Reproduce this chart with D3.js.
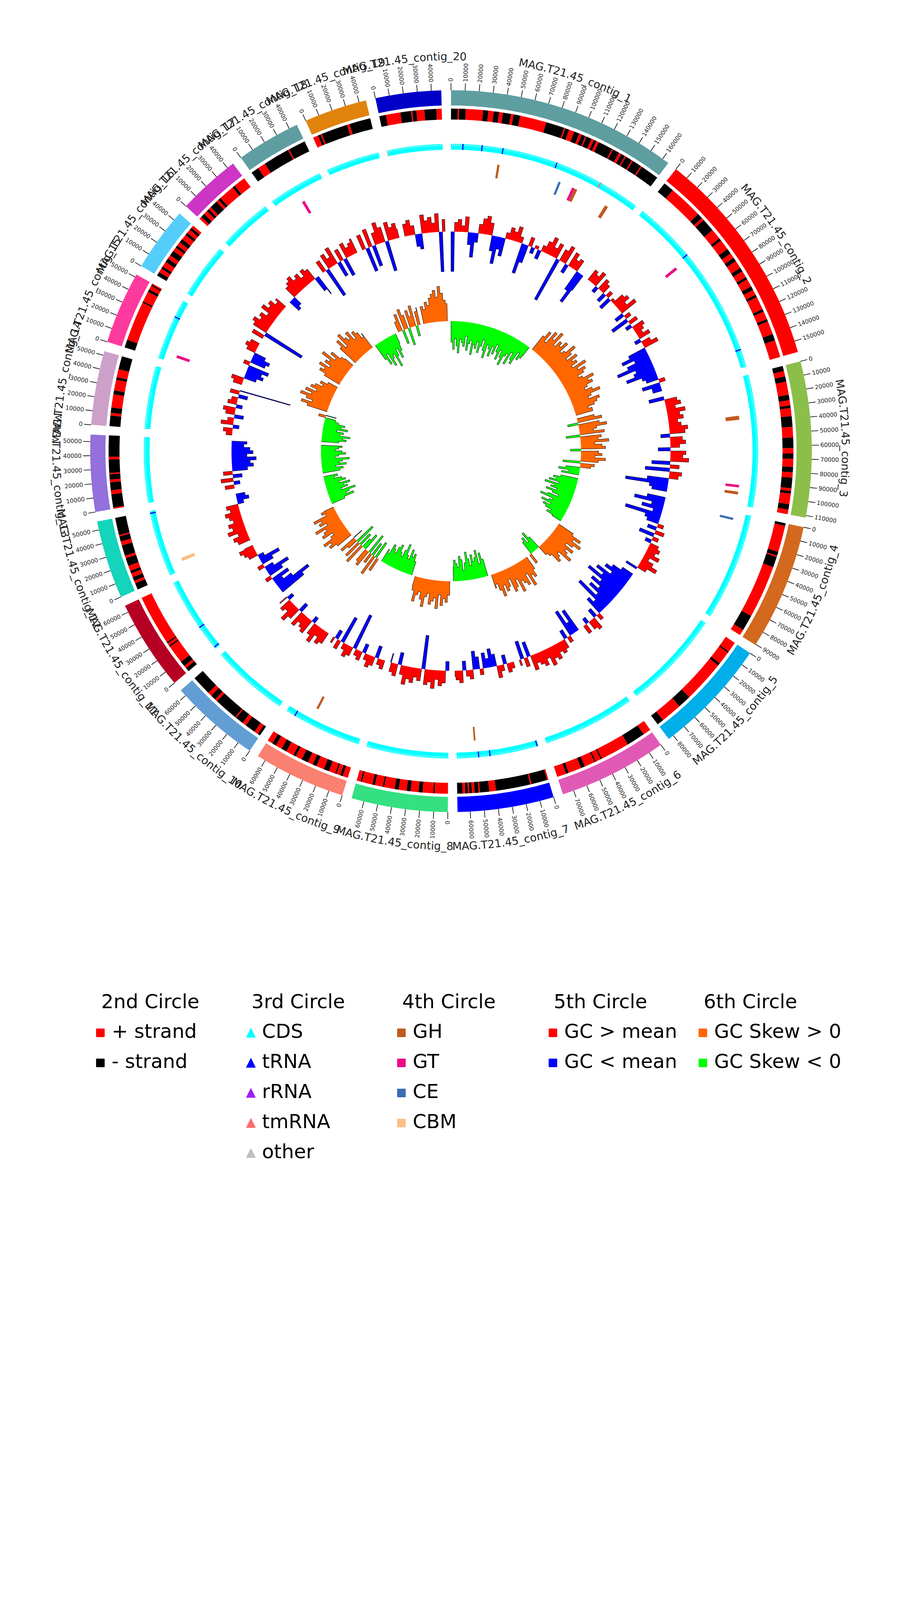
<!DOCTYPE html>
<html><head><meta charset="utf-8">
<script src="https://cdn.jsdelivr.net/npm/d3@7"></script>
<style>body{margin:0;background:#fff} text{font-family:"DejaVu Sans",sans-serif}</style>
</head><body>
<svg id="chart" width="2310" height="4620"></svg>
<script>
// ---------------- DATA ----------------
const contigNames = ["MAG.T21.45_contig_1","MAG.T21.45_contig_2","MAG.T21.45_contig_3","MAG.T21.45_contig_4","MAG.T21.45_contig_5",
  "MAG.T21.45_contig_6","MAG.T21.45_contig_7","MAG.T21.45_contig_8","MAG.T21.45_contig_9","MAG.T21.45_contig_10",
  "MAG.T21.45_contig_11","MAG.T21.45_contig_12","MAG.T21.45_contig_13","MAG.T21.45_contig_14","MAG.T21.45_contig_15",
  "MAG.T21.45_contig_16","MAG.T21.45_contig_17","MAG.T21.45_contig_18","MAG.T21.45_contig_19","MAG.T21.45_contig_20"];
const contigLengths = [165000,158000,111500,90500,84000,78000,69000,69000,66000,65000,65000,56000,55000,53000,52000,46000,45000,46000,45000,47000];
const contigColors = ["#5F9EA0","#FF0000","#8CBE4A","#D2691E","#00AEEA","#E05AB5","#0000FF","#35E082","#FA8072","#629DD4",
  "#B50024","#14D4BC","#9370DB","#CDA0CA","#FF3A9E","#55CDFA","#CD35C5","#5F9EA0","#E0830C","#0000C8"];
const tickStep = 10000;
const windowSize = 4000;

// 2nd circle: strand runs in kb (+ = plus strand, - = minus strand)
const strandRuns = [
  [-5,1,-5,13,-4,4,-4,3,-6,2,-5,20,-14,1,-3,4,-4,2,-3,1,-4,2,-2,2,-11,1,-5,2,-3,1,-5,1,-7,1,-14],
  [-8,26,-4,2,-10,8,-2,8,-4,4,-3,6,-3,5,-2,6,-3,4,-2,10,-2,6,-2,10,-5,13],
  [-4,4,-4,10,-4,4,-2,6,-8,8,-8,4,-4,6,-4,4,-8,2,-2,8,-4,3.5],
  [-2,20,-3,1,-8,40,-12,4.5],
  [8,-1,10,-2,32,-10,16,-5],
  [6,-14,22,-1,4,-1,8,-3,10,-2,7],
  [1,-12,1,-26,5,-7,1,-3,2,-2,1,-2,2,-4],
  [10,-1,8,-3,6,-3,6,-3,8,-1,6,-2,8,-1,3],
  [4,-2,3,-1,5,-4,6,-3,4,-5,5,-2,6,-4,5,-3,4],
  [-2,3,-8,3,-6,1,-18,2,-4,3,-15],
  [-3,2,-4,14,-1,2,-1,38],
  [-5,2,-3,3,-2,4,-6,2,-8,3,-4,1,-13],
  [1,-10,3,-6,2,-4,1,-10,2,-16],
  [-8,2,-4,10,-3,8,-2,6,-10],
  [-6,30,-1,8,-2,3,-1,1],
  [-3,3,-2,4,-3,3,-4,3,-2,3,-3,4,-2,3,-2,2],
  [2,-3,3,-2,2,-6,2,-2,12,-2,9],
  [-6,6,-20,1,-13],
  [4,-2,1,-20,2,-16],
  [-5,11,-8,1,-3,6,-9,4]
];

// 3rd circle: RNA features [contig number, position, type]
const rnaFeatures = [
  [1,10000,"tRNA"],[1,26000,"tRNA"],[1,43500,"tRNA"],[1,90000,"tRNA"],[1,130000,"tmRNA"],
  [2,52000,"tRNA"],[2,143000,"tRNA"],[7,1000,"tRNA"],[7,41000,"tRNA"],[7,50500,"tRNA"],
  [9,58000,"tRNA"],[11,1600,"tRNA"],[11,22000,"tRNA"],[12,54000,"tRNA"],[15,37000,"tRNA"],[20,400,"other"]
];

// 4th circle: CAZy features [contig number, start, end, class]
const cazyFeatures = [
  [1,41000,43000,"GH"],[1,97000,99000,"CE"],[1,110000,112500,"GT"],[1,112500,115000,"GH"],[1,143000,146000,"GH"],
  [2,54000,56500,"GT"],[3,33000,36500,"GH"],[3,94000,96300,"GT"],[3,100000,102500,"GH"],[4,5000,7000,"CE"],
  [7,52000,53500,"GH"],[9,43000,45000,"GH"],[12,7000,10000,"CBM"],[15,5000,7500,"GT"],[18,21000,23500,"GT"]
];

// 5th circle: GC content, deviation from mean (%), 4 kb windows
const gcDeviation = [
  [-13,3,4,2,5,-4,-8,-3,3,5,6,4,-5,-9,-4,-6,2,4,3,5,2,-10,-6,3,-2,1,-3,2,4,6,3,5,-15,4,6,-3,5,3,4,-7,-11,-6],
  [4,3,5,-2,4,3,-3,2,-4,1,4,5,3,6,-3,2,-6,3,-2,4,3,2,4,-2,3,5,-6,-9,-5,-8,-12,-6,-7,-10,-5,-4,2,-6,-3,-3],
  [-5,4,5,3,6,4,5,3,4,6,5,-3,4,5,3,-4,5,4,6,-6,3,-8,4,3,-7,-14,-6,-5],
  [-6,-10,-4,-7,-3,-12,-5,-4,2,-3,3,-5,2,-2,3,4,3,5,2,4,6,3,-4],
  [-4,-7,-9,-6,-11,-8,-13,-7,-10,-6,-9,-5,-12,-4,-6,2,-3,4,3,-2,3],
  [-8,-4,-9,2,-3,3,4,3,5,4,6,3,5,4,3,5,-5,3,-6,2],
  [2,3,-3,2,4,-4,-6,-3,-5,2,-4,-6,3,2,-3,4,3,2],
  [-3,4,5,3,6,4,5,-11,4,3,5,4,6,3,-4,4,3,-3],
  [3,2,-4,3,4,2,-3,3,2,-12,3,4,2,-9,3,-3,2],
  [4,5,3,6,4,-2,5,4,3,5,-3,4,6,3,4,-2,3],
  [-9,-12,-6,-3,-6,2,-5,-8,-3,2,-4,-7,-2,3,4,5,3],
  [4,5,3,6,4,5,3,4,5,3,4,-2,-4,-3],
  [3,-2,4,-3,3,-5,-7,-6,-8,-5,-7,-6,-4,-5],
  [2,3,-2,4,2,-3,3,4,-2,3,2,-3,3,-17],
  [3,4,-4,-6,-5,-7,2,-5,-6,-4,3,4,3],
  [4,-14,5,6,4,5,3,6,4,5,3,4],
  [-4,-3,4,5,6,4,5,3,5,4,-5,-7],
  [4,-10,5,3,6,-5,4,-6,5,3,4,5],
  [5,-8,6,-7,4,7,5,-10,6,4,5,3],
  [4,5,3,-4,-5,6,4,5,3,6,-13,4]
];

// 6th circle: GC skew, 4 kb windows
const gcSkew = [
  [-0.6,-0.8,-0.5,-0.7,-0.9,-0.5,-0.6,-0.7,-0.4,-0.8,-0.6,-0.5,-0.9,-0.6,-0.7,-0.5,-0.8,-0.6,-0.4,-0.7,-0.9,-0.5,-0.6,-0.8,-0.5,-0.7,-0.4,-0.6,-0.8,-0.5,-0.7,-0.9,-0.6,-0.5,-0.8,-0.4,-0.6,-0.7,-0.3,-0.5,-0.4,-0.3],
  [0.5,0.7,0.4,0.8,0.6,0.9,0.5,0.7,0.6,0.8,0.5,0.6,0.9,0.7,0.5,0.8,0.6,0.7,0.5,0.9,0.6,0.8,0.7,0.5,0.6,0.9,0.7,0.8,0.6,0.5,0.7,0.9,0.6,0.5,0.8,0.7,0.6,0.4,0.5,0.5],
  [0.5,0.7,-0.3,0.6,0.8,0.5,0.4,0.7,-0.4,0.6,0.5,0.8,0.4,0.6,0.7,-0.3,0.5,0.6,0.4,0.7,0.5,-0.5,0.4,0.3,-0.4,-0.6,-0.3,-0.5],
  [-0.5,-0.7,-0.6,-0.8,-0.5,-0.9,-0.6,-0.7,-0.5,-0.8,-0.6,-0.4,-0.7,-0.9,-0.5,-0.6,-0.8,-0.5,-0.7,-0.6,-0.4,-0.5,-0.3],
  [0.5,0.8,0.6,0.9,0.7,0.5,0.8,0.6,0.7,0.9,0.5,0.6,0.7,0.4,0.3,-0.4,-0.6,-0.3,-0.5,-0.4,0.3],
  [0.4,0.6,0.5,0.8,0.4,0.7,0.6,0.5,0.8,0.4,0.6,0.7,0.3,0.5,0.6,0.4,0.7,0.5,0.3,0.4],
  [-0.5,-0.7,-0.4,-0.8,-0.6,-0.5,-0.7,-0.4,-0.6,-0.8,-0.5,-0.3,-0.6,-0.7,-0.4,-0.5,-0.6,-0.4],
  [0.4,0.6,0.5,0.7,0.4,0.8,0.5,0.6,0.7,0.4,0.5,0.8,0.6,0.4,0.5,0.7,0.4,0.3],
  [-0.4,-0.6,-0.5,-0.7,-0.4,-0.5,-0.8,-0.6,-0.4,-0.5,-0.7,-0.6,-0.4,-0.5,-0.6,-0.3,-0.4],
  [0.4,-0.5,0.6,-0.4,0.3,-0.6,0.5,0.4,-0.5,-0.3,0.6,-0.4,0.5,-0.6,0.3,0.5,-0.3],
  [0.5,0.7,0.6,0.8,0.5,0.4,0.7,0.6,0.5,0.8,0.4,0.6,0.5,0.7,0.3,0.4,0.3],
  [-0.4,-0.7,-0.5,-0.6,-0.8,-0.4,-0.6,-0.5,-0.7,-0.4,-0.6,-0.5,-0.3,-0.4],
  [-0.5,-0.6,-0.4,-0.7,-0.5,-0.6,-0.8,-0.4,-0.5,-0.7,-0.6,-0.4,-0.5,-0.6],
  [-0.5,-0.7,-0.6,-0.8,-0.5,-0.6,-0.4,-0.7,-0.5,-0.6,-0.4,-0.3,0.2,-0.3],
  [0.6,0.8,0.5,0.7,0.9,0.6,0.8,0.5,0.7,0.6,0.4,0.5,0.3],
  [0.5,0.7,0.6,0.8,0.5,0.7,0.6,0.9,0.5,0.7,0.4,0.3],
  [0.6,0.8,0.5,0.9,0.7,0.6,0.8,0.5,0.7,0.6,0.4,0.5],
  [-0.5,-0.7,-0.4,-0.8,-0.6,-0.5,-0.9,-0.6,-0.4,-0.7,-0.5,-0.3],
  [0.3,0.5,-0.4,0.6,0.4,-0.5,0.5,0.3,0.6,-0.3,0.4,0.5],
  [0.5,0.4,0.6,0.5,0.7,0.8,0.9,0.7,1.0,0.8,0.6,0.5]
];

// legend
const legendTitles = ["2nd Circle","3rd Circle","4th Circle","5th Circle","6th Circle"];
const legendLabels = [["+ strand","- strand"],["CDS","tRNA","rRNA","tmRNA","other"],["GH","GT","CE","CBM"],["GC > mean","GC < mean"],["GC Skew > 0","GC Skew < 0"]];

// ---------------- STYLE ----------------
const featureColor = {"+ strand":"#FF0000","- strand":"#000000","CDS":"#00FFFF","tRNA":"#0000FF","rRNA":"#A020F0","tmRNA":"#FF6B6B","other":"#C0C0C0",
  "GH":"#C05A1E","GT":"#EC0C84","CE":"#3B6CB3","CBM":"#FDBF86","GC > mean":"#FF0000","GC < mean":"#0000FF","GC Skew > 0":"#FF6600","GC Skew < 0":"#00FF00"};

// ---------------- DRAW ----------------
const svg = d3.select("#chart");
const W = 2310, H = 4620, cx = 1155, cy = 1155;
svg.append("rect").attr("width", W).attr("height", H).attr("fill", "#fff");
const defs = svg.append("defs");
const g = svg.append("g").attr("transform", `translate(${cx},${cy})`);

const gapDeg = 1.55;
const totalLen = d3.sum(contigLengths);
const degPerBp = (360 - gapDeg * contigLengths.length) / totalLen;
let acc = 0;
const sectors = contigLengths.map((len, i) => {
  const s = acc, e = s + len * degPerBp;
  acc = e + gapDeg;
  return {i, len, s, e, scale: d3.scaleLinear().domain([0, len]).range([s, e])};
});
const rad = d => d * Math.PI / 180;
const arc = d3.arc();

// 1st circle: contigs
sectors.forEach(sec => {
  g.append("path").attr("d", arc({innerRadius: 885, outerRadius: 924, startAngle: rad(sec.s), endAngle: rad(sec.e)}))
    .attr("fill", contigColors[sec.i]);
});

// ticks + labels
sectors.forEach(sec => {
  d3.range(0, sec.len + 1, tickStep).forEach(t => {
    const a = sec.scale(t), ar = rad(a);
    const sx = Math.sin(ar), sy = -Math.cos(ar);
    g.append("line").attr("x1", 924 * sx).attr("y1", 924 * sy).attr("x2", 942 * sx).attr("y2", 942 * sy)
      .attr("stroke", "#000").attr("stroke-width", 1.6);
    const flip = a >= 180;
    g.append("text").attr("transform", `translate(${946 * sx},${946 * sy}) rotate(${flip ? a + 90 : a - 90})`)
      .attr("text-anchor", flip ? "end" : "start").attr("dominant-baseline", "central")
      .attr("font-size", 15).attr("fill", "#222").text(t);
  });
});

// contig names along arcs
const labelR = 1011;
sectors.forEach(sec => {
  const mid = (sec.s + sec.e) / 2;
  const flip = mid > 90 && mid < 270;
  const a0 = flip ? mid + 80 : mid - 80, a1 = flip ? mid - 80 : mid + 80;
  const pt = a => [cx + labelR * Math.sin(rad(a)), cy - labelR * Math.cos(rad(a))];
  const [x0, y0] = pt(a0), [x1, y1] = pt(a1);
  defs.append("path").attr("id", "lab" + sec.i).attr("d", `M${x0},${y0} A${labelR},${labelR} 0 0 ${flip ? 0 : 1} ${x1},${y1}`);
  svg.append("text").attr("font-size", 28).attr("fill", "#222").attr("dominant-baseline", "central")
    .append("textPath").attr("href", "#lab" + sec.i).attr("startOffset", "50%").attr("text-anchor", "middle")
    .text(contigNames[sec.i]);
});

// 2nd circle: strand
strandRuns.forEach((runs, i) => {
  const sec = sectors[i];
  let pos = 0;
  runs.forEach(r => {
    const len = Math.abs(r) * 1000;
    const p0 = Math.min(pos, sec.len), p1 = Math.min(pos + len, sec.len);
    pos += len;
    if (p1 <= p0) return;
    g.append("path").attr("d", arc({innerRadius: 849, outerRadius: 877, startAngle: rad(sec.scale(p0)), endAngle: rad(sec.scale(p1))}))
      .attr("fill", r > 0 ? featureColor["+ strand"] : featureColor["- strand"]);
  });
});

// 3rd circle: CDS band (solid base + serrated outer edge)
sectors.forEach(sec => {
  g.append("path").attr("d", arc({innerRadius: 772, outerRadius: 781, startAngle: rad(sec.s), endAngle: rad(sec.e)}))
    .attr("fill", featureColor["CDS"]);
  const p = d3.path();
  p.arc(0, 0, 783.5, rad(sec.s) - Math.PI / 2, rad(sec.e) - Math.PI / 2);
  g.append("path").attr("d", p.toString()).attr("fill", "none").attr("stroke", featureColor["CDS"])
    .attr("stroke-width", 7).attr("stroke-dasharray", "3.5 1");
});
rnaFeatures.forEach(([c, pos, type]) => {
  const a = rad(sectors[c - 1].scale(pos));
  const sx = Math.sin(a), sy = -Math.cos(a);
  g.append("line").attr("x1", 772 * sx).attr("y1", 772 * sy).attr("x2", 787 * sx).attr("y2", 787 * sy)
    .attr("stroke", featureColor[type]).attr("stroke-width", 3);
});

// 4th circle: CAZy
cazyFeatures.forEach(([c, s, e, type]) => {
  const sec = sectors[c - 1];
  g.append("path").attr("d", arc({innerRadius: 708, outerRadius: 743, startAngle: rad(sec.scale(s)), endAngle: rad(sec.scale(e))}))
    .attr("fill", featureColor[type]);
});

// window helper
function windowPoints(sec, vals) {
  const pts = [{a: sec.s, v: 0}];
  vals.forEach((v, j) => {
    const s = j * windowSize, e = Math.min((j + 1) * windowSize, sec.len);
    if (s >= sec.len) return;
    pts.push({a: sec.scale(s), v}, {a: sec.scale(e), v});
  });
  pts.push({a: sec.e, v: 0});
  return pts;
}
function drawSignedTrack(data, yScale, posColor, negColor) {
  const base = yScale(0);
  data.forEach((vals, i) => {
    const pts = windowPoints(sectors[i], vals);
    const areaPos = d3.areaRadial().angle(d => rad(d.a)).innerRadius(base).outerRadius(d => yScale(Math.max(0, d.v)));
    const areaNeg = d3.areaRadial().angle(d => rad(d.a)).innerRadius(base).outerRadius(d => yScale(Math.min(0, d.v)));
    const line = d3.lineRadial().angle(d => rad(d.a)).radius(d => yScale(d.v));
    g.append("path").attr("d", areaPos(pts)).attr("fill", posColor);
    g.append("path").attr("d", areaNeg(pts)).attr("fill", negColor);
    g.append("path").attr("d", line(pts)).attr("fill", "none").attr("stroke", "#000").attr("stroke-width", 1.1).attr("stroke-opacity", 0.85);
  });
}
// 5th circle: GC content
const gcScale = d3.scaleLinear().domain([-20, 8]).range([405, 625]);
drawSignedTrack(gcDeviation, gcScale, featureColor["GC > mean"], featureColor["GC < mean"]);
// 6th circle: GC skew
const skewScale = d3.scaleLinear().domain([-1, 1]).range([243, 423]);
drawSignedTrack(gcSkew, skewScale, featureColor["GC Skew > 0"], featureColor["GC Skew < 0"]);

// ---------------- LEGEND ----------------
const legendX = [246, 631, 1017, 1405, 1789];
const titleY = 2581, rowY0 = 2657, rowDY = 77;
legendTitles.forEach((t, c) => {
  svg.append("text").attr("x", legendX[c] + 13).attr("y", titleY).attr("font-size", 50).attr("fill", "#000").text(t);
  legendLabels[c].forEach((lab, r) => {
    const y = rowY0 + r * rowDY;
    const mx = legendX[c], my = y - 13;
    if (c === 1) {
      svg.append("path").attr("d", `M${mx + 11.5},${my - 11.5} L${mx + 23},${my + 11.5} L${mx},${my + 11.5} Z`)
        .attr("fill", featureColor[lab]).attr("stroke", featureColor[lab]).attr("stroke-width", 1.5).attr("stroke-linejoin", "round");
    } else {
      svg.append("rect").attr("x", mx).attr("y", my - 11).attr("width", 22).attr("height", 22).attr("rx", 2).attr("fill", featureColor[lab]);
    }
    svg.append("text").attr("x", mx + 40).attr("y", y).attr("font-size", 50).attr("fill", "#000").text(lab);
  });
});
</script>
</body></html>
